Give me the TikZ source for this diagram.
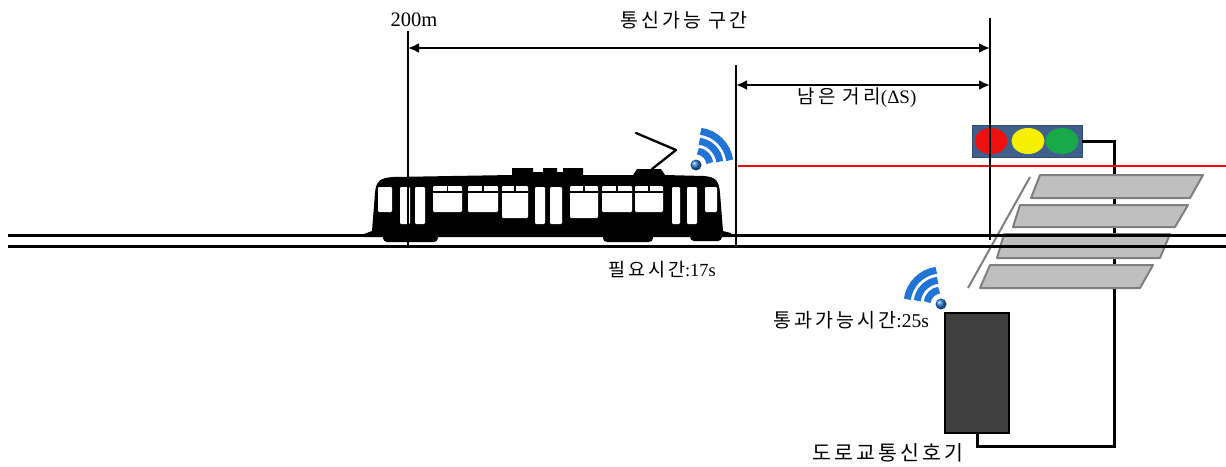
\documentclass[tikz,border=0pt]{standalone}
\usepackage{fontspec}
\setmainfont{Liberation Serif}
\newfontfamily\kr[LetterSpace=16]{Noto Sans CJK KR}
\usetikzlibrary{arrows.meta,shapes.geometric}
\definecolor{signalblue}{HTML}{3F5F8C}
\definecolor{lampred}{HTML}{F01010}
\definecolor{lampyellow}{HTML}{F5F000}
\definecolor{lampgreen}{HTML}{17A94A}
\definecolor{stripegray}{HTML}{BFBFBF}
\definecolor{stripeedge}{HTML}{7F7F7F}
\definecolor{wifiblue}{HTML}{1F74D6}
\definecolor{boxgray}{HTML}{3F3F3F}
\tikzset{
  guide/.style={line width=1.1pt, black},
  dimarrow/.style={line width=2.6pt, {Latex[length=11pt,width=10pt]}-{Latex[length=11pt,width=10pt]}},
  rail/.style={line width=3pt, black},
  wire/.style={line width=3pt, black},
  stripe/.style={fill=stripegray, draw=stripeedge, line width=2pt, line join=round},
  pane/.style={fill=white, rounded corners=1.2pt},
  lamp/.style={ellipse, minimum width=33pt, minimum height=26pt, inner sep=0pt},
  label/.style={inner sep=0pt, font=\fontsize{16}{18}\selectfont},
  wifiarc/.style={draw=wifiblue, line width=7pt},
}
\begin{document}
\begin{tikzpicture}[x=1pt, y=-1pt]
\useasboundingbox (0,0) rectangle (1226,466);

% reference points
\coordinate (g1t) at (408,31);  \coordinate (g1b) at (408,248);
\coordinate (g2t) at (736,65);  \coordinate (g2b) at (736,245);
\coordinate (g3t) at (990,18);  \coordinate (g3b) at (990,240);
\coordinate (a1l) at (408,48);  \coordinate (a1r) at (990,48);
\coordinate (a2l) at (736,85);  \coordinate (a2r) at (990,85);
\coordinate (r1l) at (8,235);   \coordinate (r1r) at (1226,235);
\coordinate (r2l) at (8,246);   \coordinate (r2r) at (1226,246);
\coordinate (redl) at (738,166); \coordinate (redr) at (1226,166);
\coordinate (wcorner) at (1114,446);
\coordinate (zl) at (1030,177); \coordinate (zr) at (968,288);

% signal head and controller box
\node[draw=signalblue!80!black, fill=signalblue, minimum width=110pt, minimum height=32pt, inner sep=0pt] (light) at (1027,141) {};
\node[lamp, fill=lampred] (lred) at (991,141) {};
\node[lamp, fill=lampyellow] (lyel) at (1028,141) {};
\node[lamp, fill=lampgreen] (lgrn) at (1062,141) {};
\node[draw=black, line width=2.5pt, fill=boxgray, minimum width=64pt, minimum height=120pt, inner sep=0pt] (box) at (977,373) {};

% cable from signal to controller
\draw[wire] (light.east) -| (wcorner) -| (box.south);

% track-side red line
\draw[line width=2.6pt, red] (redl) -- (redr);

% crosswalk
\draw[stripe] (1040,175) -- (1203,175) -- (1190,198) -- (1031,198) -- cycle;
\draw[stripe] (1020,205) -- (1188,205) -- (1175,227) -- (1013,227) -- cycle;
\draw[stripe] (1004,234) -- (1170,234) -- (1160,258) -- (997,258) -- cycle;
\draw[stripe] (990,265) -- (1153,265) -- (1140,288) -- (980,288) -- cycle;
\draw[line width=2pt, stripeedge] (zl) -- (zr);

% rails
\draw[rail] (r1l) -- (r1r);
\draw[rail] (r2l) -- (r2r);

% tram silhouette
\fill[black] (364,234) -- (372,231) -- (375,193)
  .. controls (376,181) and (380,178) .. (393,177) -- (512,175)
  -- (512,168) -- (533,168) -- (533,172) -- (543,172) -- (543,168)
  -- (557,168) -- (557,172) -- (563,172) -- (563,168) -- (583,168)
  -- (583,175) -- (633,175) -- (637,169) -- (661,169) -- (665,175)
  -- (704,176) .. controls (716,177) and (719,181) .. (720,193)
  -- (723,231) -- (731,233) -- (731,237) -- (364,237) -- cycle;
\fill[black, rounded corners=4pt] (383,230) rectangle (438,242);
\fill[black, rounded corners=4pt] (603,230) rectangle (653,242);
\fill[black, rounded corners=4pt] (690,230) rectangle (722,241);
% windows and doors
\fill[pane] (378,187) rectangle (392,212);
\fill[pane] (400,187) rectangle (410,224);
\fill[pane] (415,187) rectangle (425,224);
\fill[pane] (433,186) rectangle (462,212);
\fill[pane] (468,186) rectangle (498,212);
\fill[pane] (502,186) rectangle (528,218);
\fill[pane] (535,187) rectangle (545,224);
\fill[pane] (550,187) rectangle (562,224);
\fill[pane] (570,186) rectangle (598,218);
\fill[pane] (602,186) rectangle (632,212);
\fill[pane] (635,186) rectangle (663,212);
\fill[pane] (672,187) rectangle (680,224);
\fill[pane] (687,187) rectangle (697,224);
\fill[pane] (705,187) rectangle (717,212);
% transom bars
\foreach \a/\b in {433/462,468/498,502/528,570/598,602/632,635/663}{
  \draw[line width=1.6pt] (\a,192) -- (\b,192);
  \draw[line width=1.6pt] ({(\a+\b)/2},186) -- ({(\a+\b)/2},192);
}
% pantograph
\draw[line width=2.3pt, line cap=round, line join=round] (652,169) -- (676,150) -- (636,133);

% guide lines and dimension arrows
\draw[guide] (g1t) -- (g1b);
\draw[guide] (g2t) -- (g2b);
\draw[guide] (g3t) -- (g3b);
\draw[dimarrow] (a1l) -- (a1r);
\draw[dimarrow] (a2l) -- (a2r);

% radio icons
\begin{scope}[shift={(696,165)}, yscale=-1]
  \coordinate (w1) at (0,0);
  \draw[wifiarc] (w1) ++(8:14) arc (8:82:14);
  \draw[wifiarc] (w1) ++(8:24) arc (8:82:24);
  \draw[wifiarc] (w1) ++(8:34) arc (8:82:34);
  \shade[ball color=wifiblue] (w1) circle (5.5);
\end{scope}
\begin{scope}[shift={(941,304)}, yscale=-1]
  \coordinate (w2) at (0,0);
  \draw[wifiarc] (w2) ++(98:14) arc (98:172:14);
  \draw[wifiarc] (w2) ++(98:24) arc (98:172:24);
  \draw[wifiarc] (w2) ++(98:34) arc (98:172:34);
  \shade[ball color=wifiblue] (w2) circle (5.5);
\end{scope}

% labels
\node[label, font=\fontsize{20.5}{22}\selectfont] (t200) at (414,20) {200m};
\node[label, font=\fontsize{19.5}{21}\selectfont] (tcomm) at (684,20) {\kr 통신가능 구간};
\node[label, font=\fontsize{19}{21}\selectfont] (trem) at (857,98) {{\kr 남은 거리}(ΔS)};
\node[label, font=\fontsize{18.5}{20}\selectfont] (tneed) at (662,270) {{\kr 필요시간}:17s};
\node[label, font=\fontsize{19.5}{21}\selectfont] (tpass) at (851,320) {{\kr 통과가능시간}:25s};
\node[label, font=\fontsize{20.5}{22}\selectfont] (tsig) at (888,453) {\kr 도로교통신호기};
\end{tikzpicture}
\end{document}
